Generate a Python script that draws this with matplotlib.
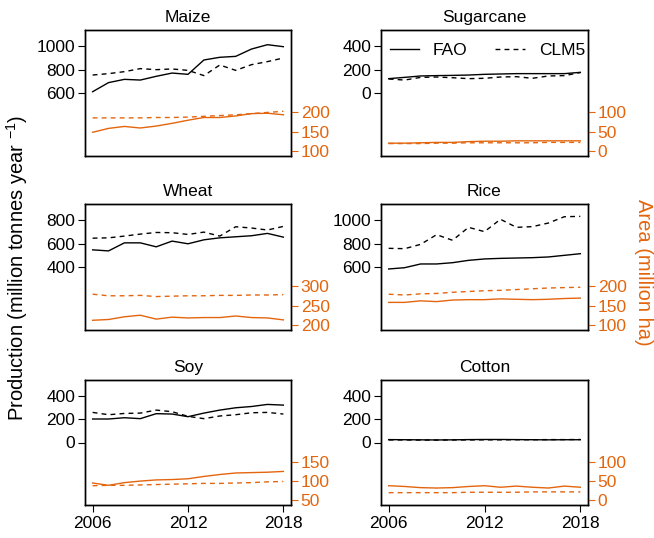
import matplotlib
matplotlib.use("Agg")
import matplotlib.pyplot as plt

plt.rcParams["font.family"] = ["Liberation Sans", "DejaVu Sans"]
plt.rcParams["mathtext.default"] = "regular"

years = list(range(2006, 2019))

# Production (million tonnes / year)
maize_prod_fao = [611, 689, 717, 711, 743, 771, 760, 883, 906, 914, 977, 1014, 997]
maize_prod_clm5 = [754, 766, 783, 809, 800, 806, 794, 749, 840, 794, 843, 869, 900]
sugar_prod_fao = [123, 134, 146, 149, 151, 154, 160, 163, 166, 166, 166, 166, 177]
sugar_prod_clm5 = [120, 111, 134, 137, 131, 123, 126, 137, 140, 126, 146, 149, 175]
wheat_prod_fao = [547, 538, 607, 607, 573, 622, 599, 633, 650, 659, 668, 688, 656]
wheat_prod_clm5 = [647, 650, 665, 682, 696, 694, 679, 699, 665, 745, 734, 717, 748]
rice_prod_fao = [583, 594, 626, 626, 637, 657, 669, 674, 677, 680, 686, 700, 714]
rice_prod_clm5 = [760, 757, 794, 877, 829, 940, 903, 1009, 940, 946, 977, 1031, 1034]
soy_prod_fao = [203, 203, 214, 206, 249, 246, 223, 254, 280, 300, 311, 329, 323]
soy_prod_clm5 = [260, 240, 251, 254, 280, 266, 226, 206, 229, 240, 257, 260, 246]
cotton_prod_fao = [25, 24, 23, 22, 23, 25, 26, 26, 25, 24, 23, 24, 24]
cotton_prod_clm5 = [22, 22, 21, 21, 22, 22, 23, 23, 24, 24, 25, 25, 26]

# Harvested area (million ha)
maize_area_fao = [149, 159, 164, 160, 165, 172, 180, 187, 187, 191, 197, 198, 194]
maize_area_clm5 = [186, 186, 186, 186, 187, 187, 188, 190, 192, 194, 197, 200, 203]
sugar_area_fao = [21, 21, 22, 23, 23, 25, 26, 26, 27, 27, 27, 27, 27]
sugar_area_clm5 = [20, 20, 20, 21, 21, 22, 22, 22, 22, 22, 23, 23, 23]
wheat_area_fao = [213, 215, 222, 226, 216, 221, 219, 220, 220, 224, 220, 219, 214]
wheat_area_clm5 = [280, 276, 276, 277, 274, 275, 276, 276, 277, 277, 278, 278, 279]
rice_area_fao = [159, 159, 163, 161, 165, 166, 166, 168, 167, 166, 167, 169, 170]
rice_area_clm5 = [180, 178, 181, 182, 185, 187, 189, 190, 192, 194, 196, 197, 198]
soy_area_fao = [95, 89, 96, 100, 103, 104, 106, 112, 117, 121, 122, 123, 125]
soy_area_clm5 = [88, 89, 89, 90, 91, 92, 93, 94, 94, 95, 96, 98, 99]
cotton_area_fao = [38, 36, 33, 32, 33, 36, 38, 34, 37, 34, 32, 37, 34]
cotton_area_clm5 = [20, 20, 20, 20, 20, 21, 21, 21, 21, 22, 22, 22, 22]

crops = ["Maize", "Sugarcane", "Wheat", "Rice", "Soy", "Cotton"]
prod_fao = [maize_prod_fao, sugar_prod_fao, wheat_prod_fao, rice_prod_fao, soy_prod_fao, cotton_prod_fao]
prod_clm5 = [maize_prod_clm5, sugar_prod_clm5, wheat_prod_clm5, rice_prod_clm5, soy_prod_clm5, cotton_prod_clm5]
area_fao = [maize_area_fao, sugar_area_fao, wheat_area_fao, rice_area_fao, soy_area_fao, cotton_area_fao]
area_clm5 = [maize_area_clm5, sugar_area_clm5, wheat_area_clm5, rice_area_clm5, soy_area_clm5, cotton_area_clm5]

# Lower bound of each panel's axis range and the ticks labelled on it
prod_low = [100, -500, -100, 100, -500, -500]
area_low = [100, 0, 200, 100, 50, 0]
prod_ticks = [[600, 800, 1000], [0, 200, 400], [400, 600, 800],
              [600, 800, 1000], [0, 200, 400], [0, 200, 400]]
area_ticks = [[100, 150, 200], [0, 50, 100], [200, 250, 300],
              [100, 150, 200], [50, 100, 150], [0, 50, 100]]
year_ticks = [2006, 2012, 2018]

ORANGE = "#E3650E"
FS = 12.5
LFS = 14.5
LW = 1.0
DASH = (3.5, 3.0)

fig = plt.figure(figsize=(6.54, 5.38), dpi=100)
W, H = 654, 538
cols = [(85, 291), (381, 588)]
rows = [(30, 156), (204, 330), (380, 505)]

for i, crop in enumerate(crops):
    r, c = divmod(i, 2)
    x0, x1 = cols[c]
    y0, y1 = rows[r]
    ax = fig.add_axes([x0 / W, 1 - y1 / H, (x1 - x0) / W, (y1 - y0) / H])
    ax2 = ax.twinx()

    ax.plot(years, prod_fao[i], color="black", lw=LW, label="FAO")
    ax.plot(years, prod_clm5[i], color="black", lw=LW, dashes=DASH, label="CLM5")
    ax2.plot(years, area_fao[i], color=ORANGE, lw=LW)
    ax2.plot(years, area_clm5[i], color=ORANGE, lw=LW, dashes=DASH)

    span_x = years[-1] - years[0]
    ax.set_xlim(years[0] - 0.04 * span_x, years[-1] + 0.04 * span_x)
    lo = prod_low[i]
    ax.set_ylim(lo - 40, lo + 1040)
    lo2 = area_low[i]
    ax2.set_ylim(lo2 - 12, lo2 + 312)

    ax.set_yticks(prod_ticks[i])
    ax.tick_params(axis="y", direction="out", length=5, width=0.8, pad=2,
                   labelsize=FS, colors="black")
    ax2.set_yticks(area_ticks[i])
    ax2.tick_params(axis="y", direction="out", length=5, width=0.8, pad=2,
                    labelsize=FS, colors=ORANGE)

    if r == 2:
        ax.set_xticks(year_ticks)
        ax.tick_params(axis="x", direction="out", length=5, width=0.8, pad=3,
                       labelsize=FS)
    else:
        ax.set_xticks([])

    for a in (ax, ax2):
        for s in a.spines.values():
            s.set_linewidth(1.0)
            s.set_color("black")

    ax.set_title(crop, fontsize=FS, pad=6)

    if crop == "Sugarcane":
        ax.legend(loc="center", bbox_to_anchor=(0.514, 0.84), ncol=2,
                  frameon=False, fontsize=FS, handlelength=1.7,
                  handletextpad=0.8, columnspacing=1.6, borderpad=0)

fig.text(17 / W, 1 - 268 / H, "Production (million tonnes year $^{-1}$)",
         rotation=90, ha="center", va="center", fontsize=LFS)
fig.text(643 / W, 1 - 272 / H, "Area (million ha)", rotation=-90,
         ha="center", va="center", fontsize=LFS, color=ORANGE)

fig.savefig("out.png", dpi=100)
